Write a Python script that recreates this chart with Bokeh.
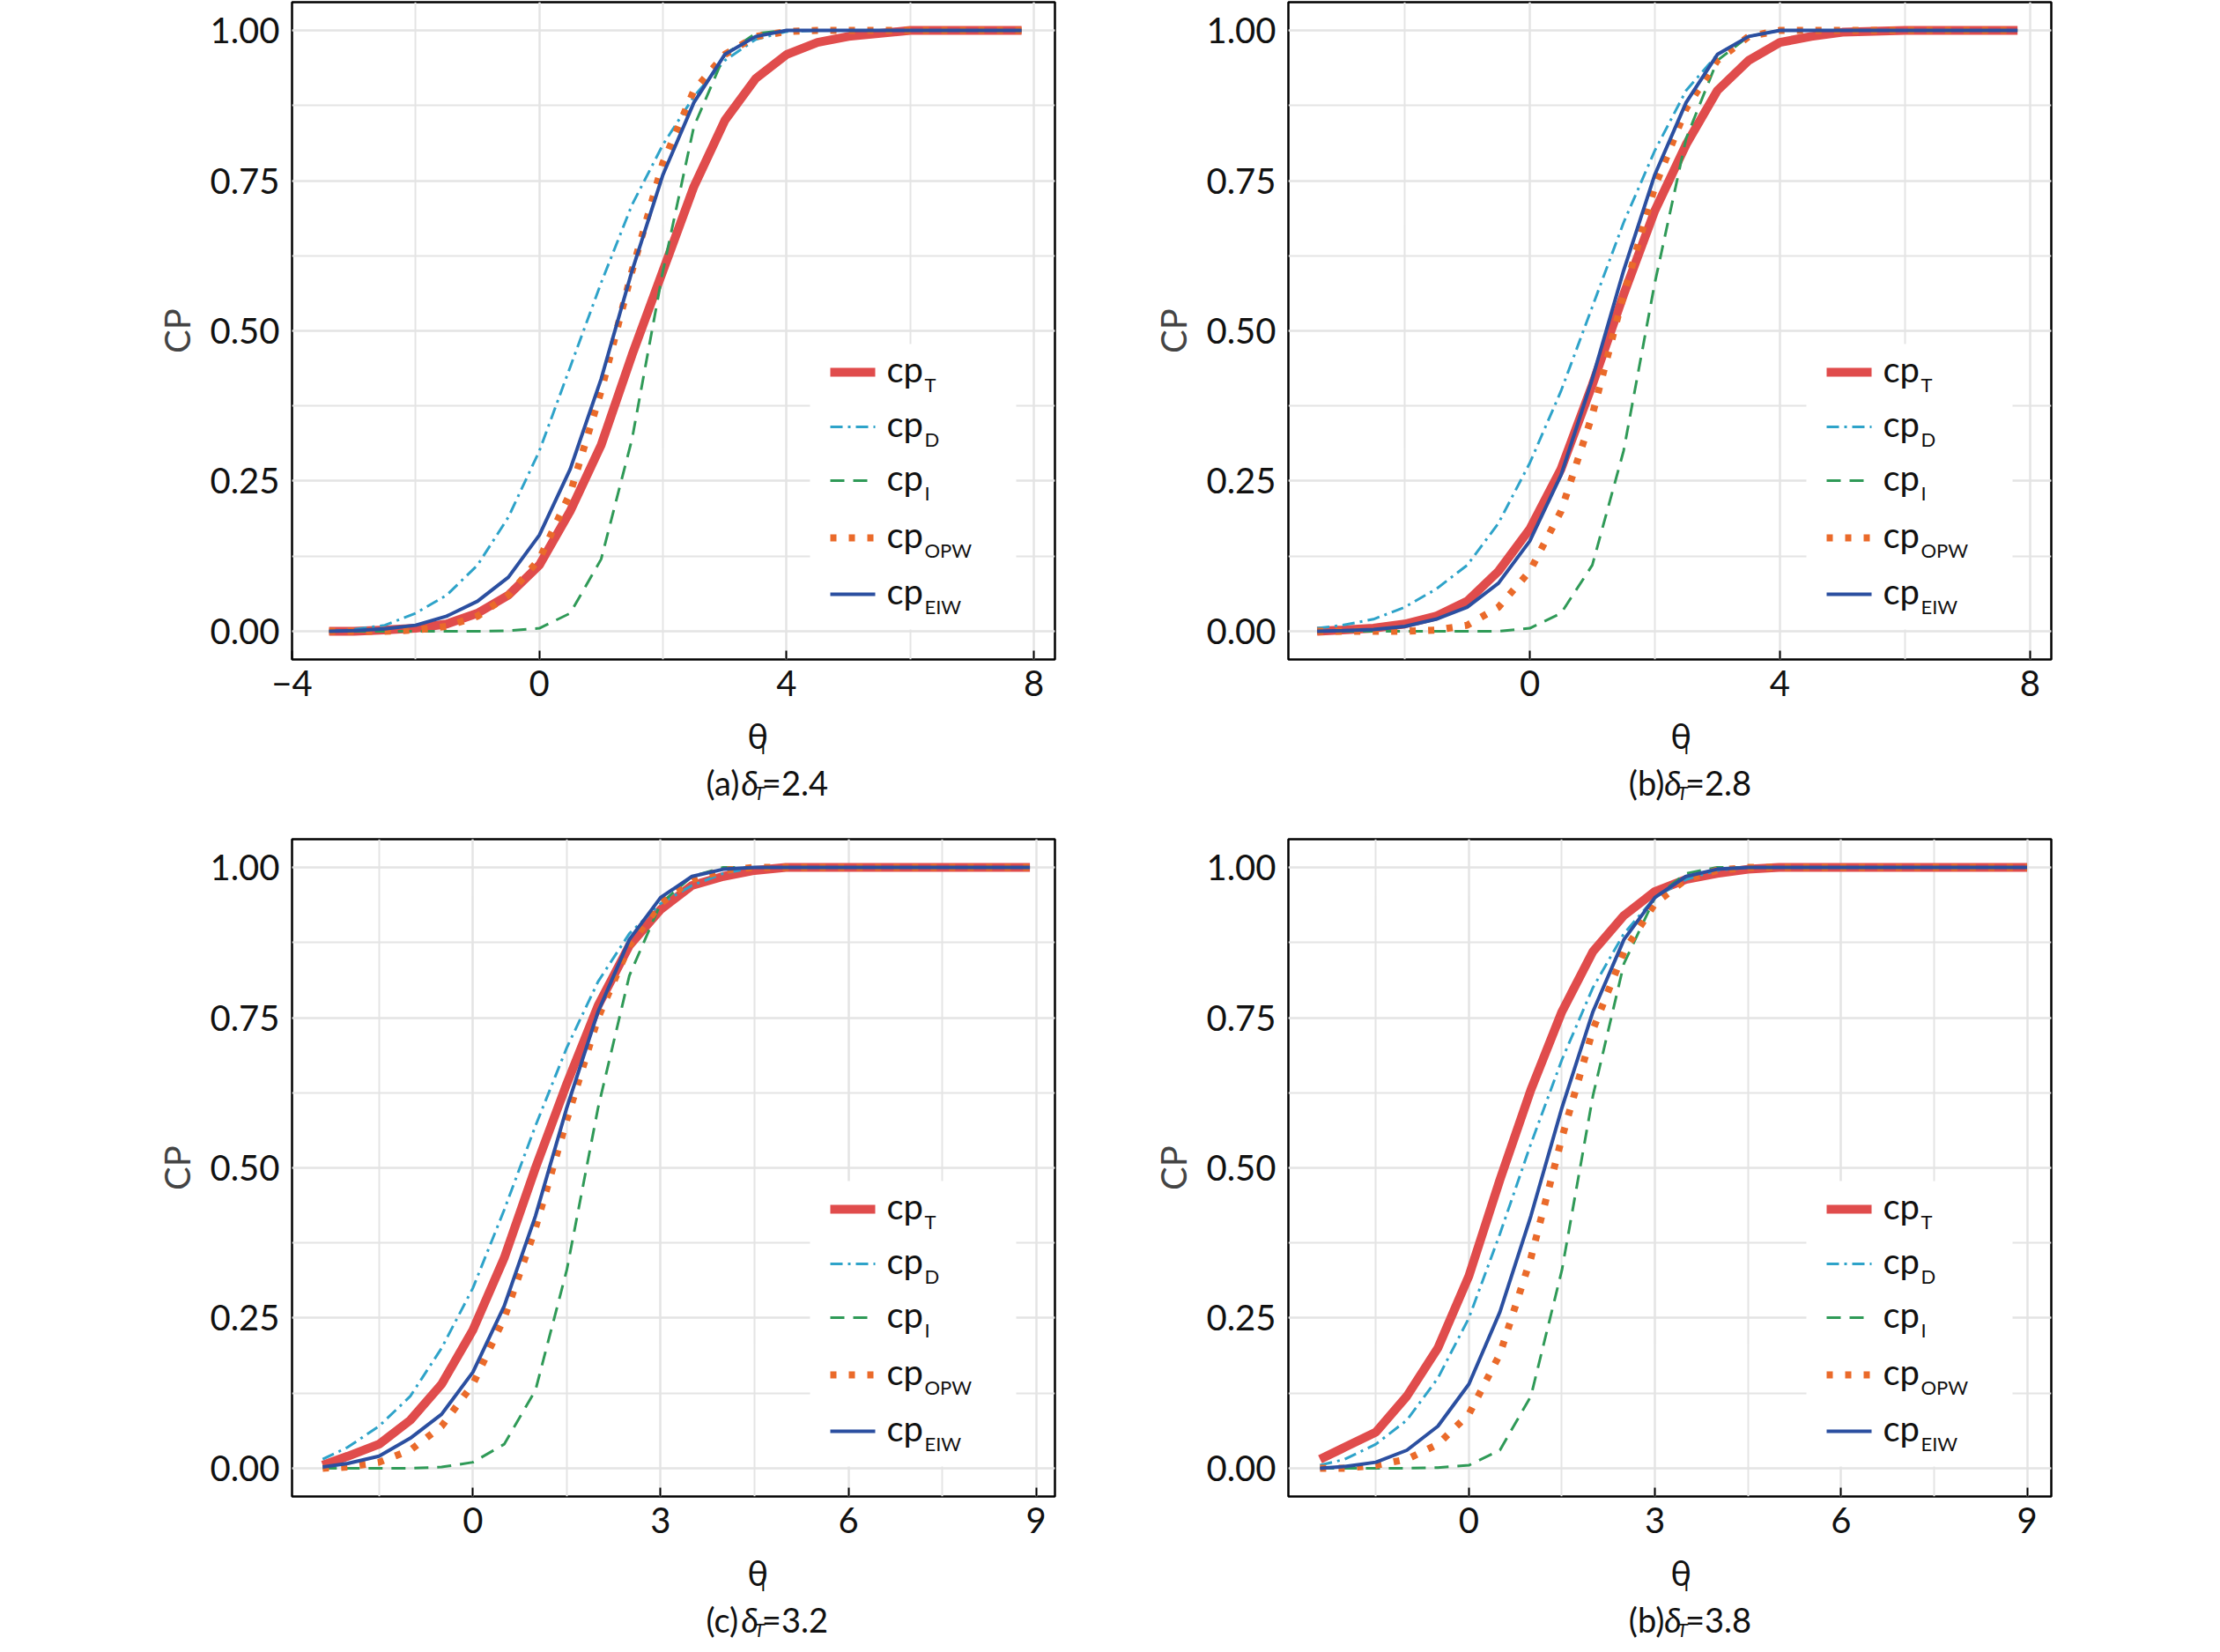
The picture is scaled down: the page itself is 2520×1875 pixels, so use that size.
from bokeh.plotting import figure
from bokeh.layouts import column, row
from bokeh.models import Label, Arrow, BoxAnnotation, FixedTicker, NumeralTickFormatter
from bokeh.embed import file_html
from bokeh.resources import INLINE

FONT = "Lato"

# ---------------- data ----------------
x_ab = [-3.4, -3, -2.5, -2, -1.5, -1, -0.5, 0, 0.5, 1, 1.5, 2, 2.5, 3, 3.5, 4, 4.5, 5, 6, 7, 7.8]
a_T   = [0, 0, 0.002, 0.005, 0.012, 0.03, 0.06, 0.11, 0.2, 0.31, 0.46, 0.6, 0.74, 0.85, 0.92, 0.96, 0.98, 0.99, 1, 1, 1]
a_D   = [0, 0.003, 0.01, 0.03, 0.06, 0.11, 0.19, 0.3, 0.44, 0.58, 0.71, 0.81, 0.89, 0.95, 0.985, 0.998, 1, 1, 1, 1, 1]
a_I   = [0, 0, 0, 0, 0, 0, 0.001, 0.005, 0.03, 0.12, 0.32, 0.6, 0.84, 0.96, 0.995, 1, 1, 1, 1, 1, 1]
a_OPW = [0, 0, 0, 0.002, 0.008, 0.025, 0.06, 0.12, 0.23, 0.4, 0.6, 0.78, 0.9, 0.96, 0.99, 0.998, 1, 1, 1, 1, 1]
a_EIW = [0, 0.001, 0.004, 0.01, 0.025, 0.05, 0.09, 0.16, 0.27, 0.42, 0.6, 0.76, 0.88, 0.96, 0.99, 1, 1, 1, 1, 1, 1]

b_T   = [0, 0.002, 0.005, 0.012, 0.025, 0.05, 0.1, 0.17, 0.27, 0.41, 0.56, 0.7, 0.81, 0.9, 0.95, 0.98, 0.99, 0.997, 1, 1, 1]
b_D   = [0.005, 0.01, 0.02, 0.04, 0.07, 0.11, 0.18, 0.28, 0.4, 0.54, 0.68, 0.8, 0.9, 0.96, 0.99, 1, 1, 1, 1, 1, 1]
b_I   = [0, 0, 0, 0, 0, 0, 0, 0.005, 0.03, 0.11, 0.3, 0.58, 0.82, 0.95, 0.99, 1, 1, 1, 1, 1, 1]
b_OPW = [0, 0, 0, 0, 0.002, 0.01, 0.04, 0.1, 0.2, 0.36, 0.56, 0.74, 0.87, 0.95, 0.99, 1, 1, 1, 1, 1, 1]
b_EIW = [0, 0.001, 0.003, 0.008, 0.02, 0.04, 0.08, 0.15, 0.26, 0.42, 0.6, 0.76, 0.88, 0.96, 0.99, 1, 1, 1, 1, 1, 1]

x_cd = [-2.4, -2, -1.5, -1, -0.5, 0, 0.5, 1, 1.5, 2, 2.5, 3, 3.5, 4, 4.5, 5, 6, 7, 8, 8.9]
c_T   = [0.005, 0.02, 0.04, 0.08, 0.14, 0.23, 0.35, 0.5, 0.64, 0.77, 0.87, 0.93, 0.97, 0.985, 0.995, 1, 1, 1, 1, 1]
c_D   = [0.015, 0.035, 0.07, 0.12, 0.2, 0.3, 0.43, 0.57, 0.7, 0.81, 0.89, 0.94, 0.97, 0.99, 1, 1, 1, 1, 1, 1]
c_I   = [0, 0, 0, 0, 0.002, 0.01, 0.04, 0.13, 0.33, 0.6, 0.82, 0.94, 0.985, 1, 1, 1, 1, 1, 1, 1]
c_OPW = [0, 0.002, 0.01, 0.03, 0.07, 0.14, 0.25, 0.4, 0.58, 0.75, 0.87, 0.94, 0.98, 0.995, 1, 1, 1, 1, 1, 1]
c_EIW = [0.002, 0.008, 0.02, 0.05, 0.09, 0.16, 0.27, 0.42, 0.6, 0.76, 0.88, 0.95, 0.985, 0.997, 1, 1, 1, 1, 1, 1]

x_d = [-2.4, -2, -1.5, -1, -0.5, 0, 0.5, 1, 1.5, 2, 2.5, 3, 3.5, 4, 4.5, 5, 6, 7, 8, 9]
d_T   = [0.015, 0.035, 0.06, 0.12, 0.2, 0.32, 0.48, 0.63, 0.76, 0.86, 0.92, 0.96, 0.98, 0.99, 0.997, 1, 1, 1, 1, 1]
d_D   = [0.005, 0.015, 0.04, 0.08, 0.15, 0.25, 0.39, 0.54, 0.68, 0.8, 0.89, 0.95, 0.98, 0.995, 1, 1, 1, 1, 1, 1]
d_I   = [0, 0, 0, 0, 0.001, 0.005, 0.03, 0.12, 0.33, 0.62, 0.84, 0.95, 0.99, 1, 1, 1, 1, 1, 1, 1]
d_OPW = [0, 0, 0.005, 0.015, 0.04, 0.09, 0.19, 0.35, 0.55, 0.73, 0.86, 0.94, 0.98, 0.995, 1, 1, 1, 1, 1, 1]
d_EIW = [0, 0.003, 0.01, 0.03, 0.07, 0.14, 0.26, 0.42, 0.6, 0.76, 0.88, 0.95, 0.985, 0.997, 1, 1, 1, 1, 1, 1]

series_names = ["T", "D", "I", "OPW", "EIW"]
captions = [("(a) ", "=2.4"), ("(b) ", "=2.8"), ("(c) ", "=3.2"), ("(b) ", "=3.8")]
y_ticks = [0, 0.25, 0.5, 0.75, 1.0]

STYLES = {
    "T":   dict(line_color="#e04c4c", line_width=10),
    "D":   dict(line_color="#2ea3c9", line_width=3, line_dash="14 6 3 6"),
    "I":   dict(line_color="#2f9a57", line_width=3, line_dash="16 10"),
    "OPW": dict(line_color="#ea6a2a", line_width=8, line_dash="7 14"),
    "EIW": dict(line_color="#2b4fa0", line_width=4),
}

FW, FH = 866, 746
Y0, Y1 = -0.047, 1.047
MAIN_H = 800


def make(xs, ys, xr, ticks, minor, left_b, right_b):
    p = figure(width=left_b + FW + right_b, height=MAIN_H, frame_width=FW, frame_height=FH,
               x_range=xr, y_range=(Y0, Y1), output_backend="svg", toolbar_location=None,
               min_border_left=left_b, min_border_right=right_b, min_border_top=2,
               min_border_bottom=MAIN_H - FH - 2)
    p.outline_line_color = "black"
    p.outline_line_width = 2.5
    for ax in (p.xaxis[0], p.yaxis[0]):
        ax.axis_line_color = None
        ax.major_label_text_font = FONT
        ax.major_label_text_font_size = "40px"
        ax.major_label_text_color = "#111111"
        ax.minor_tick_in = 0
        ax.minor_tick_out = 0
        ax.major_tick_out = 0
    p.xaxis[0].ticker = FixedTicker(ticks=ticks, minor_ticks=minor)
    p.xaxis[0].major_tick_in = 10
    p.xaxis[0].major_tick_line_width = 2
    p.xaxis[0].major_label_standoff = 12
    p.yaxis[0].ticker = FixedTicker(ticks=y_ticks, minor_ticks=[i * 0.125 for i in range(9)])
    p.yaxis[0].major_tick_in = 0
    p.yaxis[0].formatter = NumeralTickFormatter(format="0.00")
    p.yaxis[0].major_label_standoff = 14
    p.yaxis[0].axis_label = "CP"
    p.yaxis[0].axis_label_text_font = FONT
    p.yaxis[0].axis_label_text_font_style = "normal"
    p.yaxis[0].axis_label_text_font_size = "40px"
    p.yaxis[0].axis_label_standoff = 10
    for g in (p.xgrid[0], p.ygrid[0]):
        g.grid_line_color = "#e4e4e4"
        g.grid_line_width = 2
        g.minor_grid_line_color = "#e4e4e4"
        g.minor_grid_line_width = 2

    x0, x1 = xr
    fx = lambda px: x0 + px / FW * (x1 - x0)
    fy = lambda py: Y1 - py / FH * (Y1 - Y0)

    p.add_layout(BoxAnnotation(left=fx(588), right=fx(822), top=fy(388), bottom=fy(712),
                               fill_color="white", fill_alpha=1, line_color=None, level="underlay"))

    for name, y in zip(series_names, ys):
        p.line(xs, y, **STYLES[name])

    rows = [420, 482, 543, 608, 672]
    for name, r in zip(series_names, rows):
        st = STYLES[name]
        p.add_layout(Arrow(end=None, x_start=fx(611), x_end=fx(662), y_start=fy(r), y_end=fy(r),
                           line_color=st["line_color"], line_width=st["line_width"],
                           line_dash=st.get("line_dash", "solid")))
        p.add_layout(Label(x=fx(675), y=fy(r), text="cp", text_font=FONT, text_font_size="40px",
                           text_baseline="middle", text_color="#111111", y_offset=4))
        p.add_layout(Label(x=fx(675), y=fy(r), text=name, text_font=FONT, text_font_size="22px",
                           text_baseline="middle", text_color="#111111", x_offset=43, y_offset=-14))
    return p


def caption_fig(cap, left_b, right_b, h):
    W = left_b + FW + right_b
    c = figure(width=W, height=h, x_range=(0, W), y_range=(h, 0), output_backend="svg",
               toolbar_location=None, min_border=0, outline_line_color=None)
    c.axis.visible = False
    c.grid.visible = False
    cx = left_b + FW / 2
    ty = FH + 2 + 86 - MAIN_H
    cy = FH + 2 + 139 - MAIN_H
    base = dict(text_font=FONT, text_baseline="middle", text_color="#111111", text_align="left")
    c.add_layout(Label(x=cx - 12, y=ty, text="θ", text_font_size="40px", **base))
    c.add_layout(Label(x=cx + 10, y=ty + 13, text="I", text_font_size="20px", **base))
    pre, post = cap
    s = cx - 80
    c.add_layout(Label(x=s, y=cy, text=pre, text_font_size="38px", **base))
    c.add_layout(Label(x=s + 58, y=cy, text="δ", text_font_size="38px", text_font_style="italic", **base))
    c.add_layout(Label(x=s + 79, y=cy + 12, text="T", text_font_size="22px", text_font_style="italic", **base))
    c.add_layout(Label(x=s + 92, y=cy, text=post, text_font_size="38px", **base))
    return c


pa = make(x_ab, [a_T, a_D, a_I, a_OPW, a_EIW], (-4.0, 8.34), [-4, 0, 4, 8], [-4, -2, 0, 2, 4, 6, 8], 331, 63)
pb = make(x_ab, [b_T, b_D, b_I, b_OPW, b_EIW], (-3.86, 8.34), [-4, 0, 4, 8], [-2, 0, 2, 4, 6, 8], 202, 176)
pc = make(x_cd, [c_T, c_D, c_I, c_OPW, c_EIW], (-2.89, 9.3), [-3, 0, 3, 6, 9], [-1.5, 0, 1.5, 3, 4.5, 6, 7.5, 9], 331, 63)
pd = make(x_d, [d_T, d_D, d_I, d_OPW, d_EIW], (-2.91, 9.39), [-3, 0, 3, 6, 9], [-1.5, 0, 1.5, 3, 4.5, 6, 7.5, 9], 202, 176)

ca = caption_fig(captions[0], 331, 63, 150)
cb = caption_fig(captions[1], 202, 176, 150)
cc = caption_fig(captions[2], 331, 63, 110)
cd = caption_fig(captions[3], 202, 176, 110)

layout = column(row(column(pa, ca, spacing=0), column(pb, cb, spacing=0), spacing=0),
                row(column(pc, cc, spacing=0), column(pd, cd, spacing=0), spacing=0), spacing=0)
open("out.html", "w").write(file_html(layout, INLINE))
